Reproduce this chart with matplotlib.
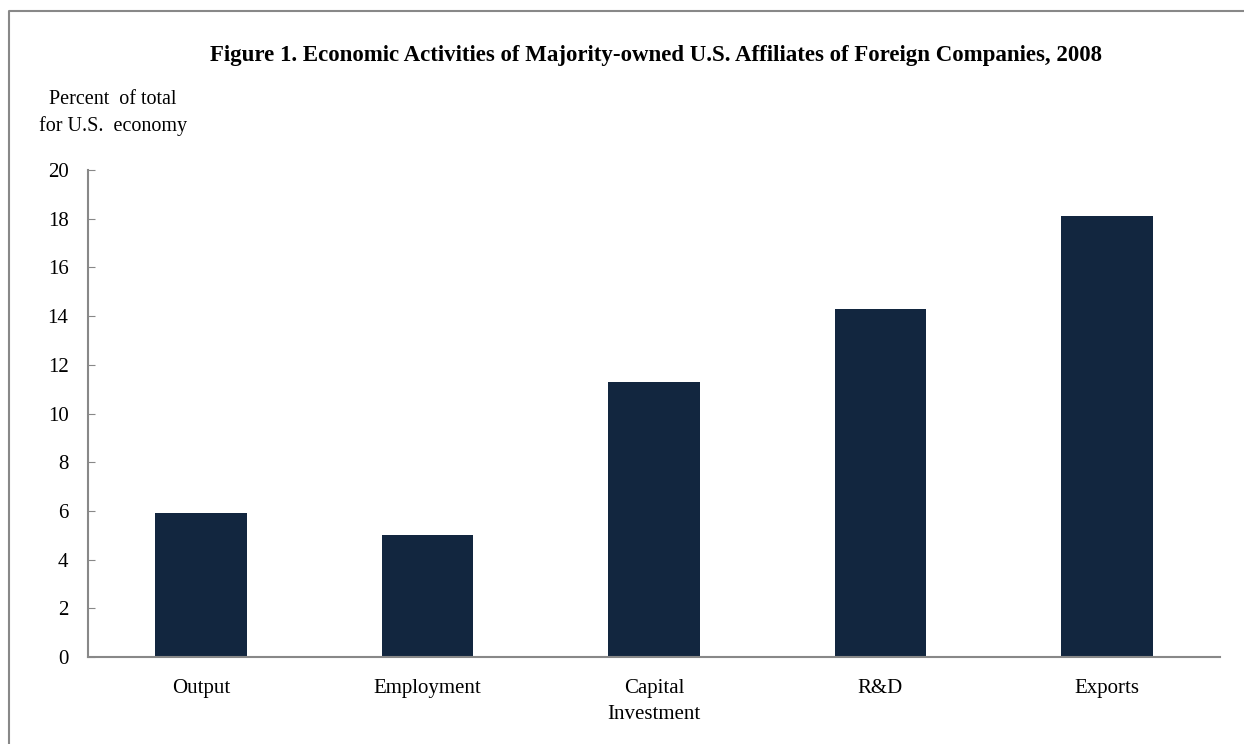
import matplotlib.pyplot as plt
from matplotlib.lines import Line2D

categories = ['Output', 'Employment', 'Capital\nInvestment', 'R&D', 'Exports']
values = [5.9, 5.0, 11.3, 14.3, 18.1]
yticks = [0, 2, 4, 6, 8, 10, 12, 14, 16, 18, 20]

plt.rcParams['font.family'] = ['Liberation Serif', 'DejaVu Serif']

fig = plt.figure(figsize=(12.44, 7.44), dpi=100)
ax = fig.add_axes([0.0707, 0.1169, 0.91, 0.6546])

ax.bar(range(len(categories)), values, width=0.405, color='#12263F')
ax.set_xlim(-0.5, len(categories) - 0.5)
ax.set_ylim(0, 20)
ax.set_yticks(yticks)
ax.set_xticks(range(len(categories)))
ax.set_xticklabels(categories, fontsize=15, linespacing=1.45)
ax.tick_params(axis='y', direction='in', length=5, color='#888888', pad=14, labelsize=15)
ax.tick_params(axis='x', length=0, pad=16)
for side in ['top', 'right']:
    ax.spines[side].set_visible(False)
for side in ['left', 'bottom']:
    ax.spines[side].set_color('#888888')
    ax.spines[side].set_linewidth(1.5)

fig.text(0.527, 0.926, 'Figure 1. Economic Activities of Majority-owned U.S. Affiliates of Foreign Companies, 2008',
         ha='center', va='center', fontsize=16.5, fontweight='bold')
fig.text(0.091, 0.848, 'Percent  of total\nfor U.S.  economy', ha='center', va='center',
         fontsize=14.5, linespacing=1.45)

# frame around the figure (left and top edges visible)
fig.add_artist(Line2D([9 / 1244, 9 / 1244, 1.0], [0.0, 1 - 11 / 744, 1 - 11 / 744],
                      transform=fig.transFigure, color='#888888', linewidth=1.5))

fig.savefig('out.png', dpi=100)
